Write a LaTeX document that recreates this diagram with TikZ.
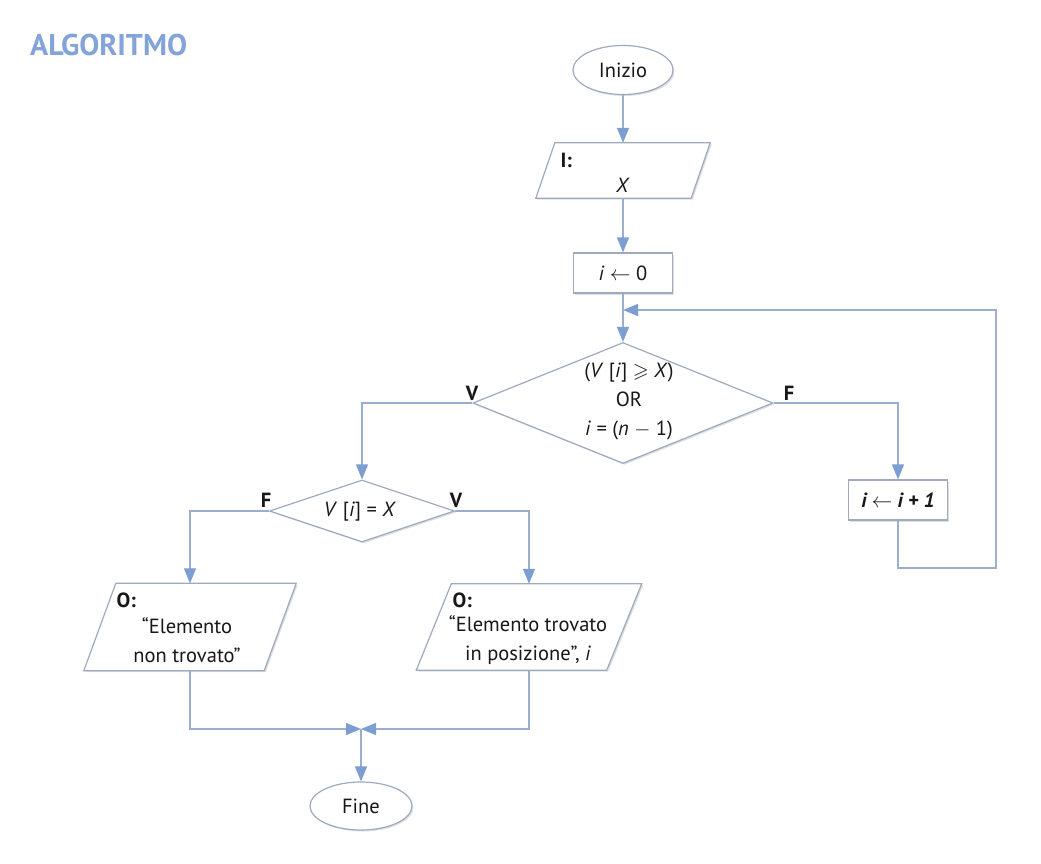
\documentclass[tikz,border=0pt]{standalone}
\usepackage{fontspec}
\usepackage{amssymb}
\setmainfont{PT Sans}
\usetikzlibrary{arrows.meta,shapes.geometric,shadows,calc}
\definecolor{lineblue}{HTML}{9AAFD0}
\definecolor{tipblue}{HTML}{7E9ED2}
\definecolor{boxline}{HTML}{9FAAC0}
\definecolor{txt}{HTML}{1A1718}
\definecolor{titleblue}{HTML}{84A3D8}
\begin{document}
\begin{tikzpicture}[x=1pt,y=-1pt,
  every node/.style={font=\fontsize{20.5}{29}\selectfont, text=txt},
  conn/.style={draw=lineblue, line width=1.3pt},
  arr/.style={conn, -{Triangle[width=12pt,length=15pt,color=tipblue]}},
  shp/.style={draw=boxline, line width=1.2pt, fill=white, drop shadow={shadow xshift=1.5pt, shadow yshift=-1.5pt, opacity=0.25}},
  box/.style={shp, rectangle, inner sep=0, minimum width=99pt, minimum height=40pt},
  term/.style={shp, ellipse, inner sep=0, minimum width=100pt, minimum height=49pt},
  dec/.style={shp, diamond, inner sep=0},
  frame/.style={rectangle, inner sep=0},
  lab/.style={font=\bfseries\fontsize{20.5}{22}\selectfont}
]
\useasboundingbox (0,0) rectangle (1041,864);
\fill[white] (0,0) rectangle (1041,864);

% title
\node[anchor=west, inner sep=0, font=\bfseries\fontsize{30}{32}\selectfont, text=titleblue] (title) at (30,45) {ALGORITMO};

% start
\node[term] (start) at (623,70) {Inizio};

% input
\node[frame, minimum width=155pt, minimum height=55pt] (inp) at (623,170.5) {};
\draw[shp] ($(inp.north west)+(9.5,0)$) -- ($(inp.north east)+(9.5,0)$) -- ($(inp.south east)+(-9.5,0)$) -- ($(inp.south west)+(-9.5,0)$) -- cycle;
\node[lab, anchor=west] (inI) at (557,160) {I:};
\node (inX) at (623,185) {\textit{X}};

% init
\node[box] (init) at (623,273) {\textit{i} $\leftarrow$ 0};

% main decision
\node[dec, minimum width=300pt, minimum height=121pt] (d1) at (623,403) {};
\node[align=center] (d1t) at (629,401) {(\textit{V} [\textit{i}] $\geqslant$ \textit{X})\\OR\\\textit{i} = (\textit{n} $-$ 1)};

% increment
\node[box] (inc) at (898,500) {\bfseries\itshape i $\leftarrow$ i + 1};

% second decision
\node[dec, minimum width=185pt, minimum height=62pt] (d2) at (362,511) {};
\node (d2t) at (360,512) {\textit{V} [\textit{i}] = \textit{X}};

% outputs
\node[frame, minimum width=180pt, minimum height=87pt] (o1) at (190,627) {};
\draw[shp] ($(o1.north west)+(16,0)$) -- ($(o1.north east)+(16,0)$) -- ($(o1.south east)+(-16,0)$) -- ($(o1.south west)+(-16,0)$) -- cycle;
\node[lab, anchor=west] (o1O) at (113,600) {O:};
\node[align=center] (o1t) at (187,640) {“Elemento\\non trovato”};

\node[frame, minimum width=190pt, minimum height=86pt] (o2) at (529,627) {};
\draw[shp] ($(o2.north west)+(17.5,0)$) -- ($(o2.north east)+(17.5,0)$) -- ($(o2.south east)+(-17.5,0)$) -- ($(o2.south west)+(-17.5,0)$) -- cycle;
\node[lab, anchor=west] (o2O) at (449,600) {O:};
\node[align=center] (o2t) at (528,640) {“Elemento trovato\\in posizione”, \textit{i}};

% end
\node[term, minimum width=102pt, minimum height=48pt] (end) at (361,806) {Fine};

% labels
\node[lab] (v1) at (472,393) {V};
\node[lab] (f1) at (789,393) {F};
\node[lab] (f2) at (266,500) {F};
\node[lab] (v2) at (456,500) {V};

% connectors
\coordinate (loopc) at (996,568);
\coordinate (loopin) at (623,310);
\coordinate (join) at (361,729);
\draw[arr] (start) -- (inp);
\draw[arr] (inp) -- (init);
\draw[arr] (init) -- (d1);
\draw[arr] (d1.west) -| (d2.north);
\draw[arr] (d1.east) -| (inc.north);
\draw[arr] (inc.south) |- (loopc) |- (loopin);
\draw[arr] (d2.west) -| (o1.north);
\draw[arr] (d2.east) -| (o2.north);
\draw[arr] (o1.south) |- (join);
\draw[arr] (o2.south) |- (join);
\draw[arr] (join) -- (end);
\end{tikzpicture}
\end{document}
